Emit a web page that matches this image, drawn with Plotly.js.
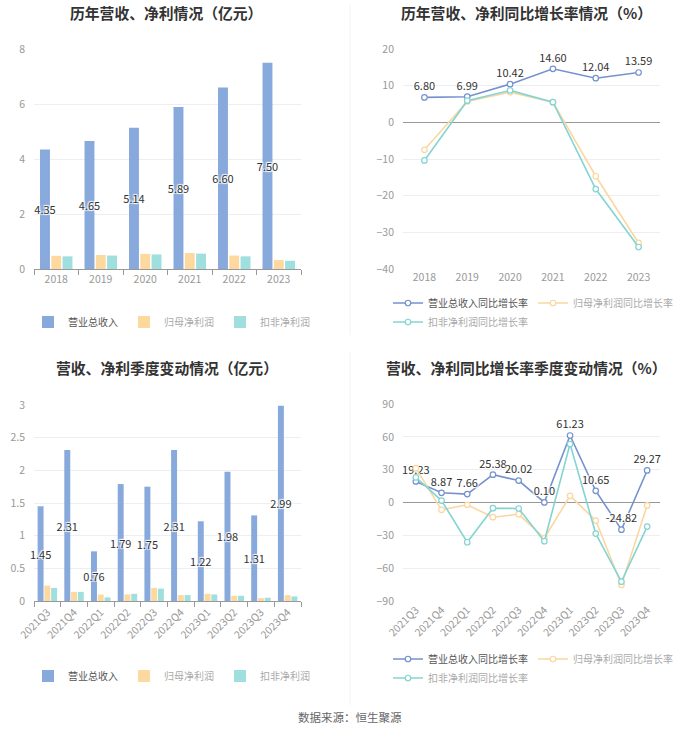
<!DOCTYPE html>
<html>
<head>
<meta charset="utf-8">
<script src="https://cdn.plot.ly/plotly-3.0.1.min.js"></script>
<style>
html,body{margin:0;padding:0;background:#fff;}
#chart{width:700px;height:734px;}
</style>
</head>
<body>
<div id="chart"></div>
<script>
// ---------- DATA ----------
const years = ["2018","2019","2020","2021","2022","2023"];
const annualRevenue = [4.35, 4.65, 5.14, 5.89, 6.60, 7.50];
const annualNetProfit = [0.48, 0.51, 0.55, 0.58, 0.49, 0.33];
const annualDeductedProfit = [0.46, 0.49, 0.53, 0.56, 0.46, 0.30];

const annualRevenueGrowth = [6.80, 6.99, 10.42, 14.60, 12.04, 13.59];
const annualNetProfitGrowth = [-7.5, 5.7, 8.2, 5.5, -14.7, -32.9];
const annualDeductedGrowth = [-10.4, 5.9, 8.7, 5.5, -18.2, -34.0];

const quarters = ["2021Q3","2021Q4","2022Q1","2022Q2","2022Q3","2022Q4","2023Q1","2023Q2","2023Q3","2023Q4"];
const qRevenue = [1.45, 2.31, 0.76, 1.79, 1.75, 2.31, 1.22, 1.98, 1.31, 2.99];
const qNetProfit = [0.235, 0.14, 0.10, 0.10, 0.20, 0.09, 0.11, 0.08, 0.045, 0.09];
const qDeductedProfit = [0.20, 0.14, 0.055, 0.11, 0.19, 0.09, 0.10, 0.08, 0.05, 0.07];

const qRevenueGrowth = [19.23, 8.87, 7.66, 25.38, 20.02, 0.10, 61.23, 10.65, -24.82, 29.27];
const qNetProfitGrowth = [31.4, -6.7, -2.1, -13.4, -10.7, -32.6, 6.1, -16.5, -75.3, -2.7];
const qDeductedGrowth = [22.9, 1.8, -36.3, -5.2, -5.5, -35.4, 53.4, -28.4, -72.3, -22.0];

const names = {
  rev: "营业总收入", np: "归母净利润", dp: "扣非净利润",
  revG: "营业总收入同比增长率", npG: "归母净利润同比增长率", dpG: "扣非净利润同比增长率"
};
const titles = ["历年营收、净利情况（亿元）","历年营收、净利同比增长率情况（%）","营收、净利季度变动情况（亿元）","营收、净利同比增长率季度变动情况（%）"];
const sourceText = "数据来源：恒生聚源";

// ---------- STYLE ----------
const FONT = "'Noto Sans CJK SC', 'Noto Sans', sans-serif";
const cBlueBar = "#88a9db", cOrangeBar = "#fdd9a0", cTealBar = "#9fe0df";
const cBlueLine = "#7592cf", cOrangeLine = "#fbd7a0", cTealLine = "#83d4d2";
const labelFont = {family: FONT, size: 11, color: "#333", shadow: "1px 1px 1px #fff, -1px -1px 1px #fff, 1px -1px 1px #fff, -1px 1px 1px #fff"};
const dim = s => '<span style="color:#aaa">' + s + '</span>';
const dark = s => '<span style="color:#555">' + s + '</span>';

function barTrace(x, y, name, color, xa, ya, leg, withText) {
  const t = {type: "bar", x: x, y: y, name: name, marker: {color: color}, xaxis: xa, yaxis: ya, legend: leg,
    hoverinfo: "skip", cliponaxis: false};
  if (withText) {
    t.text = y.map(v => v.toFixed(2));
    t.textposition = "inside";
    t.insidetextanchor = "middle";
    t.constraintext = "none";
    t.textangle = 0;
    t.textfont = labelFont;
    t.insidetextfont = labelFont;
  } else {
    t.textposition = "none";
  }
  return t;
}
function lineTrace(x, y, name, color, xa, ya, leg, withText) {
  const t = {type: "scatter", mode: withText ? "lines+markers+text" : "lines+markers", x: x, y: y, name: name,
    line: {color: color, width: 1.6},
    marker: {symbol: "circle", size: 5.5, color: "#fff", line: {color: color, width: 1.2}},
    xaxis: xa, yaxis: ya, legend: leg, hoverinfo: "skip", cliponaxis: false};
  if (withText) {
    t.text = y.map(v => v.toFixed(2));
    t.textposition = "top center";
    t.textfont = labelFont;
  }
  return t;
}

const data = [
  barTrace(years, annualRevenue, dark(names.rev), cBlueBar, "x", "y", "legend", true),
  barTrace(years, annualNetProfit, dim(names.np), cOrangeBar, "x", "y", "legend", false),
  barTrace(years, annualDeductedProfit, dim(names.dp), cTealBar, "x", "y", "legend", false),

  lineTrace(years, annualRevenueGrowth, dark(names.revG), cBlueLine, "x2", "y2", "legend2", true),
  lineTrace(years, annualNetProfitGrowth, dim(names.npG), cOrangeLine, "x2", "y2", "legend2", false),
  lineTrace(years, annualDeductedGrowth, dim(names.dpG), cTealLine, "x2", "y2", "legend3", false),

  barTrace(quarters, qRevenue, dark(names.rev), cBlueBar, "x3", "y3", "legend4", true),
  barTrace(quarters, qNetProfit, dim(names.np), cOrangeBar, "x3", "y3", "legend4", false),
  barTrace(quarters, qDeductedProfit, dim(names.dp), cTealBar, "x3", "y3", "legend4", false),

  lineTrace(quarters, qRevenueGrowth, dark(names.revG), cBlueLine, "x4", "y4", "legend5", true),
  lineTrace(quarters, qNetProfitGrowth, dim(names.npG), cOrangeLine, "x4", "y4", "legend5", false),
  lineTrace(quarters, qDeductedGrowth, dim(names.dpG), cTealLine, "x4", "y4", "legend6", false)
];

const W = 700, H = 734;
const px = v => v / W, py = v => 1 - v / H;
const tickFont = {family: FONT, size: 10.5, color: "#999"};
const gridC = "#eceef2";

function xCat(domain, anchor, n, angle) {
  return {domain: domain, anchor: anchor, type: "category", range: [-0.5, n - 0.5],
    showgrid: false, showline: true, linecolor: "#999", linewidth: 1,
    ticks: "outside", ticklen: 5, tickcolor: "#999", tickson: "boundaries", tickfont: tickFont, tickangle: angle,
    fixedrange: true, zeroline: false};
}
function yLin(domain, anchor, range, dtick, zl) {
  return {domain: domain, anchor: anchor, range: range, dtick: dtick, tick0: 0,
    showgrid: true, gridcolor: gridC, gridwidth: 1, showline: false, ticks: "",
    tickfont: tickFont, ticklabelstandoff: 8,
    zeroline: zl, zerolinecolor: "#999", zerolinewidth: 1, fixedrange: true};
}
// tick marks drawn on the zero line of the growth charts
function zeroTicks(overlay, n, pos) {
  return {overlaying: overlay, anchor: "free", position: pos, type: "linear", range: [-0.5, n - 0.5],
    tickmode: "array", tickvals: Array.from({length: n}, (_, i) => i), showticklabels: false,
    ticks: "outside", ticklen: 4, tickcolor: "#999", showgrid: false, zeroline: false, showline: false, fixedrange: true};
}

const topY = [py(269), py(49)];
const botY = [py(601), py(405)];
const leftX = [px(34), px(301)];
const rightX = [px(403), px(660)];

const legFont = {family: FONT, size: 10, color: "#555"};
function leg(x, y, xanchor, ew) {
  const l = {orientation: "h", x: x, y: y, xanchor: xanchor, yanchor: "middle", font: legFont,
    bgcolor: "rgba(0,0,0,0)", itemclick: false, itemdoubleclick: false, tracegroupgap: 0, itemwidth: 30};
  if (ew) { l.entrywidth = ew; l.entrywidthmode = "pixels"; }
  return l;
}

const titleAnn = (text, x, y) => ({text: "<b>" + text + "</b>", x: x, y: y, xref: "paper", yref: "paper",
  xanchor: "center", yanchor: "middle", showarrow: false, font: {family: FONT, size: 14.8, color: "#333"}});

const layout = {
  width: W, height: H,
  margin: {l: 0, r: 0, t: 0, b: 0},
  paper_bgcolor: "#fff", plot_bgcolor: "#fff",
  font: {family: FONT},
  showlegend: true,
  barmode: "group", bargap: 0.24, bargroupgap: 0.12,
  xaxis: xCat(leftX, "y", years.length, 0),
  yaxis: yLin(topY, "x", [0, 8], 2, false),
  xaxis2: Object.assign(xCat(rightX, "y2", years.length, 0), {showline: false, ticks: ""}),
  yaxis2: yLin(topY, "x2", [-40, 20], 10, true),
  xaxis3: xCat(leftX, "y3", quarters.length, -45),
  yaxis3: yLin(botY, "x3", [0, 3], 0.5, false),
  xaxis4: Object.assign(xCat(rightX, "y4", quarters.length, -45), {showline: false, ticks: ""}),
  yaxis4: yLin([py(601), py(404)], "x4", [-90, 90], 30, true),
  xaxis5: zeroTicks("x2", years.length, py(122.3)),
  xaxis6: zeroTicks("x4", quarters.length, py(502.5)),
  legend: leg(px(172), py(322), "center", 51),
  legend2: leg(px(388), py(303), "left", 100),
  legend3: leg(px(388), py(322), "left", 100),
  legend4: leg(px(172), py(676), "center", 51),
  legend5: leg(px(388), py(659), "left", 100),
  legend6: leg(px(388), py(678), "left", 100),
  annotations: [
    titleAnn(titles[0], px(166), py(13)),
    titleAnn(titles[1], px(526), py(13)),
    titleAnn(titles[2], px(167), py(367)),
    titleAnn(titles[3], px(526), py(367)),
    {text: sourceText, x: 0.5, y: py(717), xref: "paper", yref: "paper", xanchor: "center", yanchor: "middle",
      showarrow: false, font: {family: FONT, size: 11.5, color: "#666"}}
  ],
  shapes: [
    {type: "line", xref: "paper", yref: "paper", x0: 0.5, x1: 0.5, y0: py(5), y1: py(335), line: {color: "#f2f2f2", width: 1}},
    {type: "line", xref: "paper", yref: "paper", x0: 0.5, x1: 0.5, y0: py(352), y1: py(705), line: {color: "#f2f2f2", width: 1}}
  ]
};

Plotly.newPlot("chart", data, layout, {displayModeBar: false, staticPlot: true});
</script>
</body>
</html>
